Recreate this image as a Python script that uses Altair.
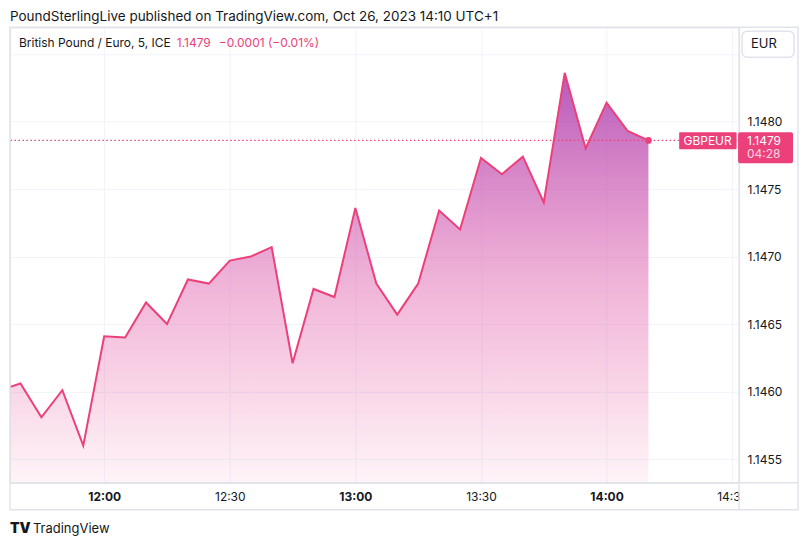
import altair as alt
import pandas as pd

# ---- data ----
times = ["11:35", "11:40", "11:45", "11:50", "11:55", "12:00", "12:05", "12:10",
         "12:15", "12:20", "12:25", "12:30", "12:35", "12:40", "12:45", "12:50",
         "12:55", "13:00", "13:05", "13:10", "13:15", "13:20", "13:25", "13:30",
         "13:35", "13:40", "13:45", "13:50", "13:55", "14:00", "14:05", "14:10"]
prices = [1.14601, 1.14606, 1.14581, 1.14601, 1.14560, 1.14641, 1.14640, 1.14666,
          1.14650, 1.14683, 1.14680, 1.14697, 1.14700, 1.14707, 1.14621, 1.14676,
          1.14670, 1.14736, 1.14680, 1.14657, 1.14680, 1.14734, 1.14720, 1.14773,
          1.14761, 1.14774, 1.14740, 1.14836, 1.14780, 1.14814, 1.14793, 1.14786]
y_ticks = [1.1455, 1.1460, 1.1465, 1.1470, 1.1475, 1.1480, 1.1485]
x_ticks = ["12:00", "12:30", "13:00", "13:30", "14:00", "14:30"]
last_price = prices[-1]

df = pd.DataFrame({"t": ["2023-10-26T" + t + ":00Z" for t in times], "price": prices})

FONT = "Inter"
INK = "#131722"
PINK = "#ec407a"
GRID = "#f0f3fa"
FRAME = "#e0e3eb"

W, H = 730, 456


def dt(hm, s=0):
    h, m = hm.split(":")
    return alt.DateTime(year=2023, month=10, date=26, hours=int(h), minutes=int(m), seconds=s, utc=True)


x_scale = alt.Scale(type="utc", domain=[dt("11:37", 30), dt("14:31", 39)])
y_scale = alt.Scale(domain=[1.145325, 1.1486975], zero=False, nice=False)

x_axis = alt.Axis(values=[dt(v) for v in x_ticks], format="%H:%M", title=None,
                  grid=True, gridColor=GRID, domain=False, ticks=False, tickSize=0,
                  labelFont=FONT, labelFontSize=12, labelColor=INK,
                  labelBaseline="middle", labelPadding=14, labelFlush=False,
                  labelFontWeight={"condition": {"test": "utcminutes(datum.value) == 0", "value": "bold"},
                                   "value": "normal"})
y_axis = alt.Axis(orient="right", values=y_ticks, format=".4f", title=None,
                  labelExpr="datum.value > 1.14825 ? '' : datum.label",
                  grid=True, gridColor=GRID, domain=False, ticks=False, tickSize=0,
                  labelFont=FONT, labelFontSize=12, labelColor=INK, labelPadding=8)

base = alt.Chart(df)

area = base.mark_area(
    clip=True,
    color=alt.Gradient(
        gradient="linear",
        stops=[alt.GradientStop(color="rgba(170, 60, 175, 0.85)", offset=0),
               alt.GradientStop(color="rgba(222, 90, 170, 0.45)", offset=0.5),
               alt.GradientStop(color="rgba(240, 90, 150, 0.03)", offset=1)],
        x1=1, x2=1, y1=0, y2=1),
).encode(
    x=alt.X("t:T", scale=x_scale, axis=x_axis),
    y=alt.Y("price:Q", scale=y_scale, axis=y_axis),
    y2=alt.datum(1.1452),
)

line = base.mark_line(clip=True, color=PINK, strokeWidth=2).encode(
    x=alt.X("t:T", scale=x_scale), y=alt.Y("price:Q", scale=y_scale))

last_df = pd.DataFrame({"t": [df["t"].iloc[-1]], "price": [last_price]})
dot = alt.Chart(last_df).mark_point(filled=True, color=PINK, size=45, opacity=1).encode(
    x=alt.X("t:T", scale=x_scale), y=alt.Y("price:Q", scale=y_scale))

one = pd.DataFrame({"a": [0]})

price_line = alt.Chart(last_df).mark_rule(color=PINK, strokeWidth=1.2, strokeDash=[1.5, 2.5]).encode(
    y=alt.Y("price:Q", scale=y_scale))


def rect(x, x2, y, y2, **kw):
    return alt.Chart(one).mark_rect(**kw).encode(
        x=alt.value(x), x2=alt.value(x2), y=alt.value(y), y2=alt.value(y2))


def rule(x, x2, y, y2, **kw):
    return alt.Chart(one).mark_rule(**kw).encode(
        x=alt.value(x), x2=alt.value(x2), y=alt.value(y), y2=alt.value(y2))


def text(x, y, s, **kw):
    params = dict(font=FONT, fontSize=13, color=INK, align="left", baseline="middle")
    params.update(kw)
    return alt.Chart(one).mark_text(text=s, **params).encode(x=alt.value(x), y=alt.value(y))


# tags
gbp_tag = rect(670, 727.5, 105, 122, color=PINK, cornerRadius=1)
gbp_txt = text(698.5, 113.5, "GBPEUR", fontSize=12, color="white", align="center")
price_tag = rect(729, 784, 105, 136, color=PINK, cornerRadius=2)
price_txt = text(738, 113.5, "1.1479", fontSize=12, color="white")
timer_txt = text(738, 127, "04:28", fontSize=12, color="white", opacity=0.8)

# currency button
eur_box = rect(733, 785, 4, 30, fill="white", stroke=FRAME, strokeWidth=1.5, cornerRadius=5)
eur_txt = text(742, 17, "EUR", fontSize=13)

# cover for the clipped 14:30 label and frame lines
cover = rect(731, 788, 457, 482, color="white")
frame = rect(0, 789, 0, 483, fillOpacity=0, stroke=FRAME, strokeWidth=1.5)
vsep = rule(730, 730, 0, 483, color=FRAME, strokeWidth=1.5)
hsep = rule(0, 789, 456, 456, color=FRAME, strokeWidth=1.5)

# texts
header = text(0, -17, "PoundSterlingLive published on TradingView.com, Oct 26, 2023 14:10 UTC+1",
              fontSize=13.5, baseline="top")
legend1 = text(9, 16, "British Pound / Euro, 5, ICE", fontSize=12)
legend2 = text(167, 16, "1.1479", color=PINK, fontSize=12)
legend3 = text(209, 16, "\u22120.0001 (\u22120.01%)", color=PINK, fontSize=12)
logo = text(0, 502, "TV", fontSize=14, fontWeight=900)
brand = text(23, 502, "TradingView", fontSize=13)

chart = alt.layer(
    area, line, price_line, dot,
    gbp_tag, gbp_txt,
    cover, frame, vsep, hsep,
    price_tag, price_txt, timer_txt,
    eur_box, eur_txt,
    header, legend1, legend2, legend3, logo, brand,
).properties(
    width=W, height=H,
    autosize=alt.AutoSizeParams(type="none"),
    padding={"left": 2, "top": 19, "right": 62, "bottom": 56},
).configure_view(stroke=None).configure(background="white")

chart.save("out.html", embed_options={"renderer": "svg", "actions": False})
